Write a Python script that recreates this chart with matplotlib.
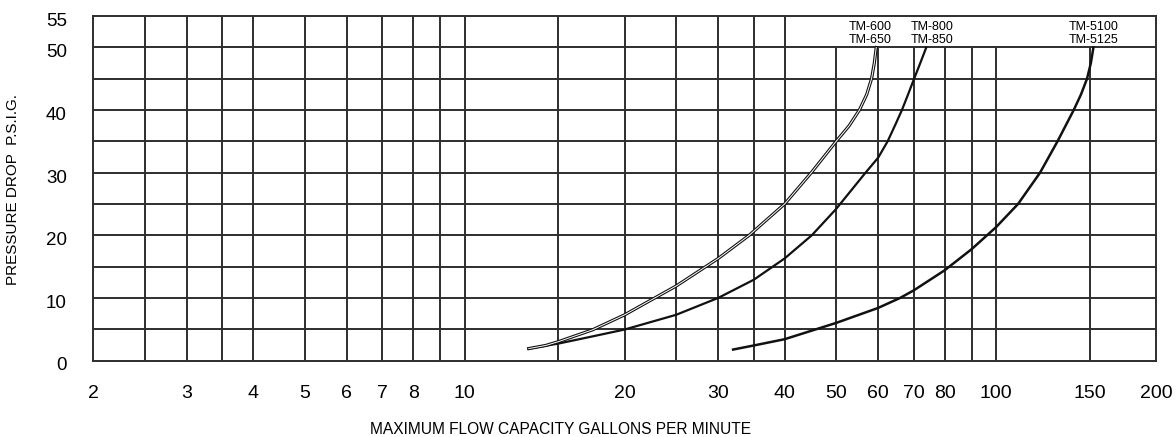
## flow capacity chart: pressure drop vs gallons per minute (log x)

import matplotlib
matplotlib.use('Agg')
import matplotlib.pyplot as plt
from matplotlib.ticker import FixedLocator, NullLocator, FuncFormatter
from matplotlib.transforms import ScaledTranslation

## DATA

# TM-600 / TM-650  (drawn as a double line)
tm600_gpm = [13.2, 14.2, 15, 17.4, 20, 25, 30, 34.3, 40, 44.9, 50, 52.9, 55.3,
             57.1, 58.3, 59.0, 59.5]
tm600_psi = [1.9, 2.4, 3.0, 4.9, 7.3, 11.9, 16.3, 20, 25, 30, 35, 37.5, 40,
             42.5, 45, 47.5, 50]

# TM-800 / TM-850
tm800_gpm = [13.2, 15, 17.4, 20, 25, 30, 35, 40, 45, 50, 56.8, 60, 62.5, 64.5,
             66.5, 68.3, 70.1, 72.0, 73.9]
tm800_psi = [1.9, 2.7, 3.85, 4.95, 7.3, 10, 12.9, 16.3, 20, 24.2, 30, 32.4, 35,
             37.5, 40, 42.5, 45, 47.5, 50]

# TM-5100 / TM-5125
tm5100_gpm = [32, 35, 40, 50, 60, 66, 70, 80, 90, 100, 110, 121, 130.5, 140,
              144.5, 148.3, 150.8, 152.5]
tm5100_psi = [1.75, 2.4, 3.4, 6.0, 8.4, 10, 11.2, 14.4, 17.8, 21.3, 25, 30, 35,
              40, 42.5, 45, 47.5, 50]

curve_labels = ['TM-600\nTM-650', 'TM-800\nTM-850', 'TM-5100\nTM-5125']

x_ticks = [2, 3, 4, 5, 6, 7, 8, 10, 20, 30, 40, 50, 60, 70, 80, 100, 150, 200]
y_ticks = [0, 10, 20, 30, 40, 50, 55]

# vertical rulings of the chart paper
x_grid = [2.5, 3, 3.5, 4, 5, 6, 7, 8, 9, 10, 15, 20, 25, 30, 35, 40,
          50, 60, 70, 80, 90, 100, 150]
y_grid = [5, 10, 15, 20, 25, 30, 35, 40, 45, 50]

## FIGURE

plt.rcParams['font.family'] = ['Liberation Sans', 'DejaVu Sans']

W, H = 1176, 437
fig = plt.figure(figsize=(W / 100, H / 100), dpi=100)
ax = fig.add_axes([93.3 / W, 1 - 360.5 / H, (1156 - 93.3) / W, (360.5 - 16.2) / H])

ax.set_xscale('log')
ax.set_xlim(2, 200)
ax.set_ylim(0, 55)

grid_col = '#2e2e2e'
grid_lw = 1.4

# rulings: the ones right of 40 stop at 50 (label box on top)
for xv in x_grid:
    top = 55 if xv <= 40 else 50
    ax.vlines(xv, 0, top, color=grid_col, lw=grid_lw, zorder=1)
ax.hlines(y_grid, 2, 200, color=grid_col, lw=grid_lw, zorder=1)

for s in ax.spines.values():
    s.set_color(grid_col)
    s.set_linewidth(grid_lw)

## curves
ax.plot(tm600_gpm, tm600_psi, color='#111111', lw=2.3, zorder=3)
ax.plot(tm600_gpm, tm600_psi, color='white', lw=0.7, zorder=4)
ax.plot(tm800_gpm, tm800_psi, color='#111111', lw=1.6, zorder=3)
ax.plot(tm5100_gpm, tm5100_psi, color='#111111', lw=1.8, zorder=3)

# model names just above the end of each curve
label_x = [58.0, 75.7, 152.5]
for lx, txt in zip(label_x, curve_labels):
    ax.text(lx, 52.3, txt, ha='center', va='center', fontsize=9,
            linespacing=1.1, zorder=5)

## ticks
ax.xaxis.set_major_locator(FixedLocator(x_ticks))
ax.xaxis.set_minor_locator(NullLocator())
ax.xaxis.set_major_formatter(FuncFormatter(lambda v, p: '%g' % v))
ax.yaxis.set_major_locator(FixedLocator(y_ticks))
ax.tick_params(axis='x', length=0, pad=18, labelsize=14)
ax.tick_params(axis='y', length=0, pad=19, labelsize=13.5)

# y numbers sit a few pixels below their rulings in the original
shift = ScaledTranslation(0, -0.035, fig.dpi_scale_trans)
for lab in ax.get_yticklabels():
    lab.set_transform(lab.get_transform() + shift)

fig.text(560 / W, 1 - 429 / H, 'MAXIMUM FLOW CAPACITY GALLONS PER MINUTE',
         ha='center', va='center', fontsize=11.2)
fig.text(13.5 / W, 1 - 190 / H, 'PRESSURE DROP  P.S.I.G.', rotation=90,
         ha='center', va='center', fontsize=11)

fig.savefig('out.png', dpi=100)
